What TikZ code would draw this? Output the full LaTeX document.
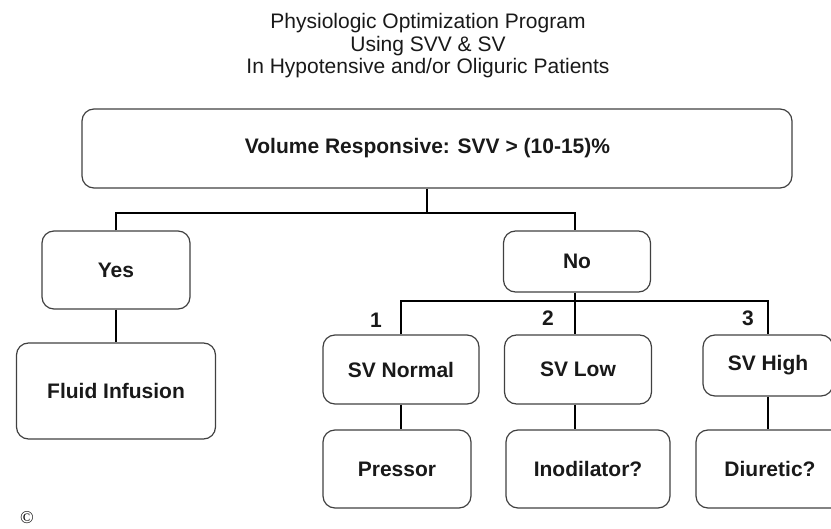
\documentclass[tikz,border=0pt]{standalone}
\usepackage{fontspec}
\setmainfont{Liberation Sans}
\newfontfamily\serifcopy{Liberation Serif}
\begin{document}
\begin{tikzpicture}[x=1pt,y=-1pt,
  box/.style={draw=black!75, line width=1.2pt, rounded corners=12pt, inner sep=0pt, align=center, text=black!90, font=\fontsize{21}{24}\selectfont\bfseries},
  link/.style={line width=2pt},
  num/.style={inner sep=0pt, text=black!90, font=\fontsize{21}{24}\selectfont\bfseries}]
\clip (0,0) rectangle (831,529);
\node[align=center, inner sep=0pt, text=black!90, font=\fontsize{21}{22.5}\selectfont] (title) at (428,46) {Physiologic Optimization Program\\Using SVV \& SV\\In Hypotensive and/or Oliguric Patients};
\node[box, minimum width=710pt, minimum height=79pt] (top) at (437,148.5) {Volume Responsive: SVV > (10-15)\%\hspace*{19pt}};
\node[box, minimum width=148pt, minimum height=78pt] (yes) at (116,270) {Yes};
\node[box, minimum width=199pt, minimum height=96pt] (fluid) at (116,391) {Fluid Infusion};
\node[box, minimum width=147pt, minimum height=61pt] (no) at (577,261.5) {No};
\node[box, minimum width=156pt, minimum height=69pt] (norm) at (401,369.5) {SV Normal};
\node[box, minimum width=147pt, minimum height=69pt] (low) at (578,369.5) {SV Low};
\node[box, minimum width=130pt, minimum height=61pt] (high) at (768,365.5) {SV High};
\node[box, minimum width=148pt, minimum height=78pt] (pressor) at (397,469) {Pressor};
\node[box, minimum width=164pt, minimum height=78pt] (inod) at (588,469) {Inodilator?};
\node[box, minimum width=148pt, minimum height=78pt] (diur) at (770,469) {Diuretic?};
\node[num] (num1) at (376,320) {1};
\node[num] (num2) at (548,318) {2};
\node[num] (num3) at (748,318) {3};
\node[inner sep=0pt, font=\serifcopy\fontsize{18}{18}\selectfont] (crt) at (27,518) {\textcopyright};
\coordinate (forkTop) at (427,213);
\coordinate (forkNo) at (575,301);
\draw[link] (top.south -| forkTop) -- (forkTop);
\draw[link] (yes.north) |- (forkTop) -| (no.north -| forkNo);
\draw[link] (yes.south) -- (fluid.north);
\draw[link] (no.south -| forkNo) -- (low.north -| forkNo);
\draw[link] (norm.north) |- (forkNo) -| (high.north);
\draw[link] (norm.south) -- (norm.south |- pressor.north);
\draw[link] (low.south -| forkNo) -- (forkNo |- inod.north);
\draw[link] (high.south) -- (high.south |- diur.north);
\end{tikzpicture}
\end{document}
